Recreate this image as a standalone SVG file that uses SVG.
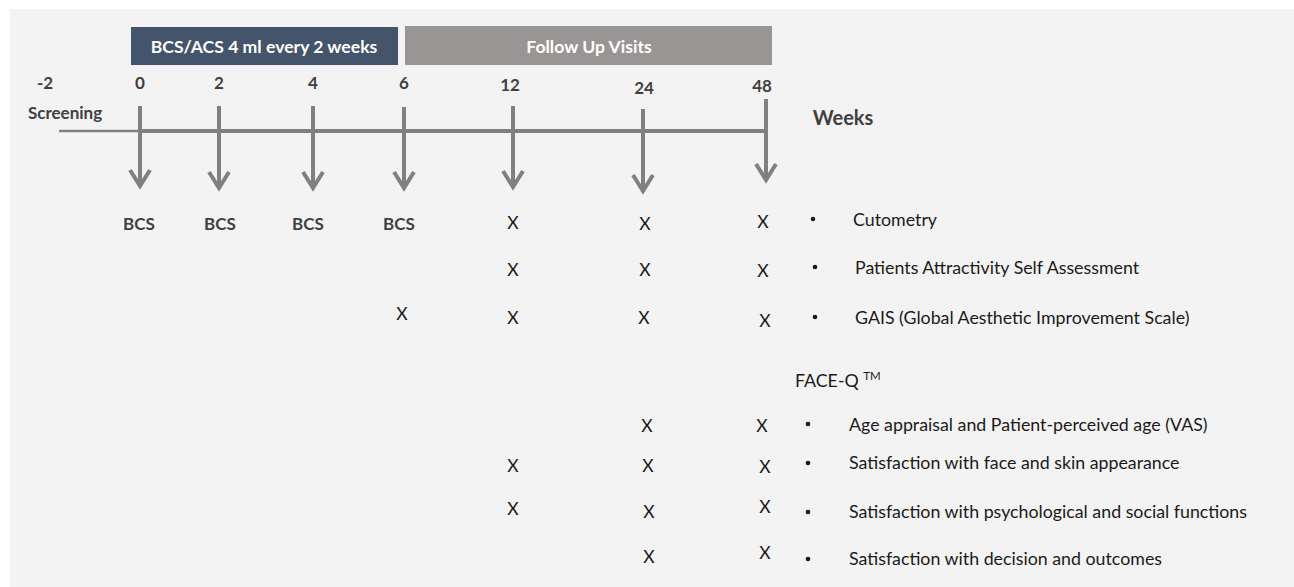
<svg xmlns="http://www.w3.org/2000/svg" width="1294" height="587" viewBox="0 0 1294 587">
<style>
text{font-family:Lato,"Open Sans","Liberation Sans",sans-serif}
.hdr{font-size:17.6px;font-weight:bold;fill:#fff;text-anchor:middle}
.num{font-size:17px;font-weight:bold;fill:#404040;text-anchor:middle}
.bcs{font-size:17px;font-weight:bold;fill:#404040;text-anchor:middle}
.x{font-size:17.5px;fill:#1a1a1a;text-anchor:middle}
.t{font-size:17.8px;fill:#1a1a1a}
.axis{stroke:#808080;fill:none}
.arr{stroke:#808080;stroke-width:4;fill:none}
.dot{fill:#1a1a1a}
</style>
<rect x="0" y="0" width="1294" height="587" fill="#ffffff"/>
<rect x="10" y="9" width="1284" height="578" fill="#f3f3f3"/>

<g id="phase-treatment">
<rect x="131" y="27" width="267" height="38" fill="#44546a"/>
<text class="hdr" x="264" y="53">BCS/ACS 4 ml every 2 weeks</text>
</g>
<g id="phase-followup">
<rect x="405" y="26" width="367" height="39" fill="#989594"/>
<text class="hdr" x="589" y="53">Follow Up Visits</text>
</g>

<g id="connectors">
<line class="axis" x1="59" y1="131" x2="140" y2="131" stroke-width="2.5"/>
<line class="axis" x1="140" y1="131" x2="767" y2="131" stroke-width="4"/>
<path class="arr" d="M140 106V187M130 170L140 186L150 170"/>
<path class="arr" d="M219 106V189M209 172L219 188L229 172"/>
<path class="arr" d="M313 106V189M303 172L313 188L323 172"/>
<path class="arr" d="M404 107V189M394 172L404 188L414 172"/>
<path class="arr" d="M513 106V188M503 171L513 187L523 171"/>
<path class="arr" d="M643 109V192M633 175L643 191L653 175"/>
<path class="arr" d="M766 99V181M756 164L766 180L776 164"/>
</g>

<g id="weeks">
<text class="num" x="45" y="89">-2</text>
<text class="num" x="65" y="119">Screening</text>
<text class="num" x="140" y="89">0</text>
<text class="num" x="219" y="89">2</text>
<text class="num" x="313" y="89">4</text>
<text class="num" x="404" y="89">6</text>
<text class="num" x="510" y="91">12</text>
<text class="num" x="644" y="94">24</text>
<text class="num" x="762" y="92">48</text>
<text class="num" x="843" y="125" style="font-size:20px">Weeks</text>
</g>

<g id="bcs-labels">
<text class="bcs" x="139" y="230">BCS</text>
<text class="bcs" x="220" y="230">BCS</text>
<text class="bcs" x="308" y="230">BCS</text>
<text class="bcs" x="399" y="230">BCS</text>
</g>

<g id="marks">
<text class="x" x="513" y="229">X</text>
<text class="x" x="645" y="230">X</text>
<text class="x" x="763" y="228">X</text>
<text class="x" x="513" y="276">X</text>
<text class="x" x="645" y="276">X</text>
<text class="x" x="763" y="277">X</text>
<text class="x" x="402" y="320">X</text>
<text class="x" x="513" y="324">X</text>
<text class="x" x="644" y="324">X</text>
<text class="x" x="765" y="327">X</text>
<text class="x" x="647" y="432">X</text>
<text class="x" x="762" y="432">X</text>
<text class="x" x="513" y="472">X</text>
<text class="x" x="648" y="472">X</text>
<text class="x" x="765" y="473">X</text>
<text class="x" x="513" y="515">X</text>
<text class="x" x="649" y="518">X</text>
<text class="x" x="765" y="513">X</text>
<text class="x" x="649" y="563">X</text>
<text class="x" x="765" y="559">X</text>
</g>

<g id="assessments">
<circle class="dot" cx="813" cy="219" r="2.3"/>
<text class="t" x="853" y="226">Cutometry</text>
<circle class="dot" cx="815" cy="267" r="2.3"/>
<text class="t" x="855" y="274">Patients Attractivity Self Assessment</text>
<circle class="dot" cx="815" cy="317" r="2.3"/>
<text class="t" x="855" y="324">GAIS (Global Aesthetic Improvement Scale)</text>
<text class="t" x="795" y="387">FACE-Q <tspan font-size="11.5" dy="-7">TM</tspan></text>
<circle class="dot" cx="808" cy="424" r="2.3"/>
<text class="t" x="849" y="431">Age appraisal and Patient-perceived age (VAS)</text>
<circle class="dot" cx="808" cy="463" r="2.3"/>
<text class="t" x="849" y="469">Satisfaction with face and skin appearance</text>
<circle class="dot" cx="808" cy="512" r="2.3"/>
<text class="t" x="849" y="518">Satisfaction with psychological and social functions</text>
<circle class="dot" cx="808" cy="559" r="2.3"/>
<text class="t" x="849" y="565">Satisfaction with decision and outcomes</text>
</g>
</svg>
